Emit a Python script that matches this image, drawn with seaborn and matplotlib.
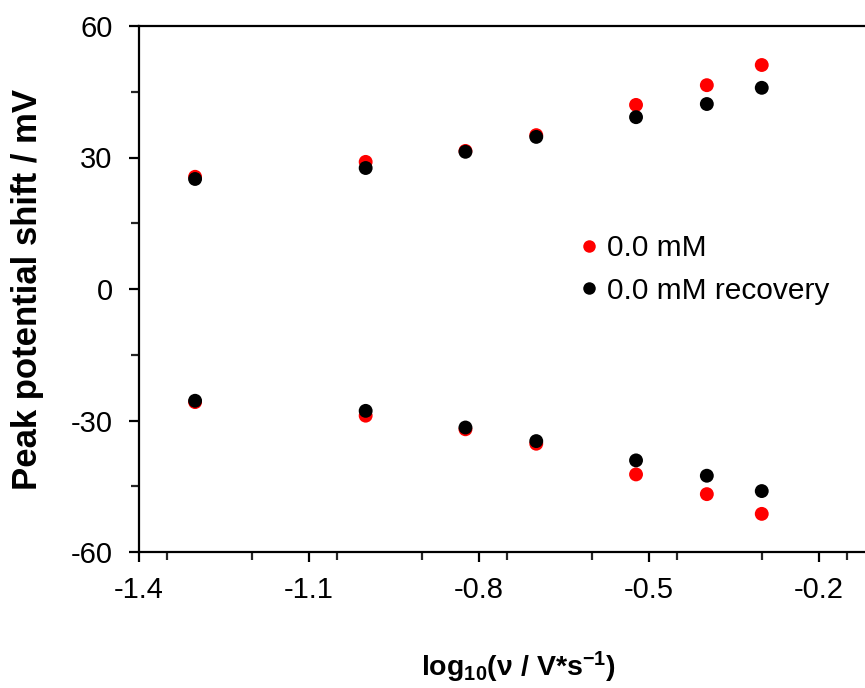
import numpy as np
import pandas as pd
import matplotlib
matplotlib.use("Agg")
import matplotlib.pyplot as plt
import seaborn as sns
from matplotlib.ticker import MultipleLocator

# ---- data ----
scan_rates = [0.05, 0.1, 0.15, 0.2, 0.3, 0.4, 0.5]  # V/s
log_rate = list(np.log10(scan_rates))

red_upper = [25.6, 29.0, 31.5, 35.1, 42.0, 46.5, 51.1]
red_lower = [-25.8, -28.9, -32.0, -35.3, -42.3, -46.8, -51.3]
black_upper = [25.1, 27.6, 31.3, 34.7, 39.2, 42.2, 45.9]
black_lower = [-25.5, -27.8, -31.6, -34.7, -39.1, -42.6, -46.1]

series_names = ["0.0 mM", "0.0 mM recovery"]
x_ticks = [-1.4, -1.1, -0.8, -0.5, -0.2]
y_ticks = [-60, -30, 0, 30, 60]

df = pd.DataFrame({
    "x": log_rate * 4,
    "y": red_upper + red_lower + black_upper + black_lower,
    "series": [series_names[0]] * 14 + [series_names[1]] * 14,
})

sns.set_style("ticks")
plt.rcParams["font.family"] = ["Liberation Sans", "DejaVu Sans"]
plt.rcParams["text.color"] = "black"
plt.rcParams["axes.labelcolor"] = "black"
plt.rcParams["mathtext.fontset"] = "custom"
plt.rcParams["mathtext.rm"] = "Liberation Sans:bold"
plt.rcParams["mathtext.default"] = "rm"

fig = plt.figure(figsize=(8.65, 6.88), dpi=100)
ax = fig.add_axes([139 / 865, 1 - 552 / 688, 1 - 139 / 865 + 0.01, (552 - 26) / 688])

sns.scatterplot(data=df, x="x", y="y", hue="series",
                palette={series_names[0]: "#ff0000", series_names[1]: "#000000"},
                s=100, linewidth=0, ax=ax, legend=True, zorder=3)

ax.set_xlim(-1.4, -1.4 + (865 - 139) / 170 * 0.3 + 0.01 * 865 / 170 * 0.3)
ax.set_ylim(-60, 60)
ax.set_xticks(x_ticks)
ax.set_xticklabels([f"{v:.1f}" for v in x_ticks])
ax.set_yticks(y_ticks)
ax.set_yticklabels([str(v) for v in y_ticks])
ax.xaxis.set_minor_locator(MultipleLocator(0.15))
ax.yaxis.set_minor_locator(MultipleLocator(15))

for s in ["left", "bottom", "top"]:
    ax.spines[s].set_linewidth(1.6)
    ax.spines[s].set_color("black")
ax.spines["right"].set_visible(False)

ax.tick_params(axis="both", which="major", direction="out", length=7, width=1.6,
               labelsize=21, colors="black", pad=12)
ax.tick_params(axis="both", which="minor", direction="out", length=5.5, width=1.6)
ax.tick_params(axis="x", pad=10)

ax.set_xlabel(r"log$_{10}$(ν / V*s$^{-1}$)", fontsize=20.5, fontweight="bold", labelpad=33)
ax.xaxis.label.set_x(0.516)
ax.set_ylabel("Peak potential shift / mV", fontsize=25, fontweight="bold", labelpad=19)

leg = ax.legend(loc="upper left", bbox_to_anchor=((554 - 139) / 726, 1 - (234 - 26) / 526),
                frameon=False, fontsize=21.5, handletextpad=-0.4, labelspacing=0.5,
                markerscale=0.9, borderaxespad=0, borderpad=0)
for h in leg.legend_handles:
    h.set_linewidth(0)

fig.savefig("out.png", dpi=100)
